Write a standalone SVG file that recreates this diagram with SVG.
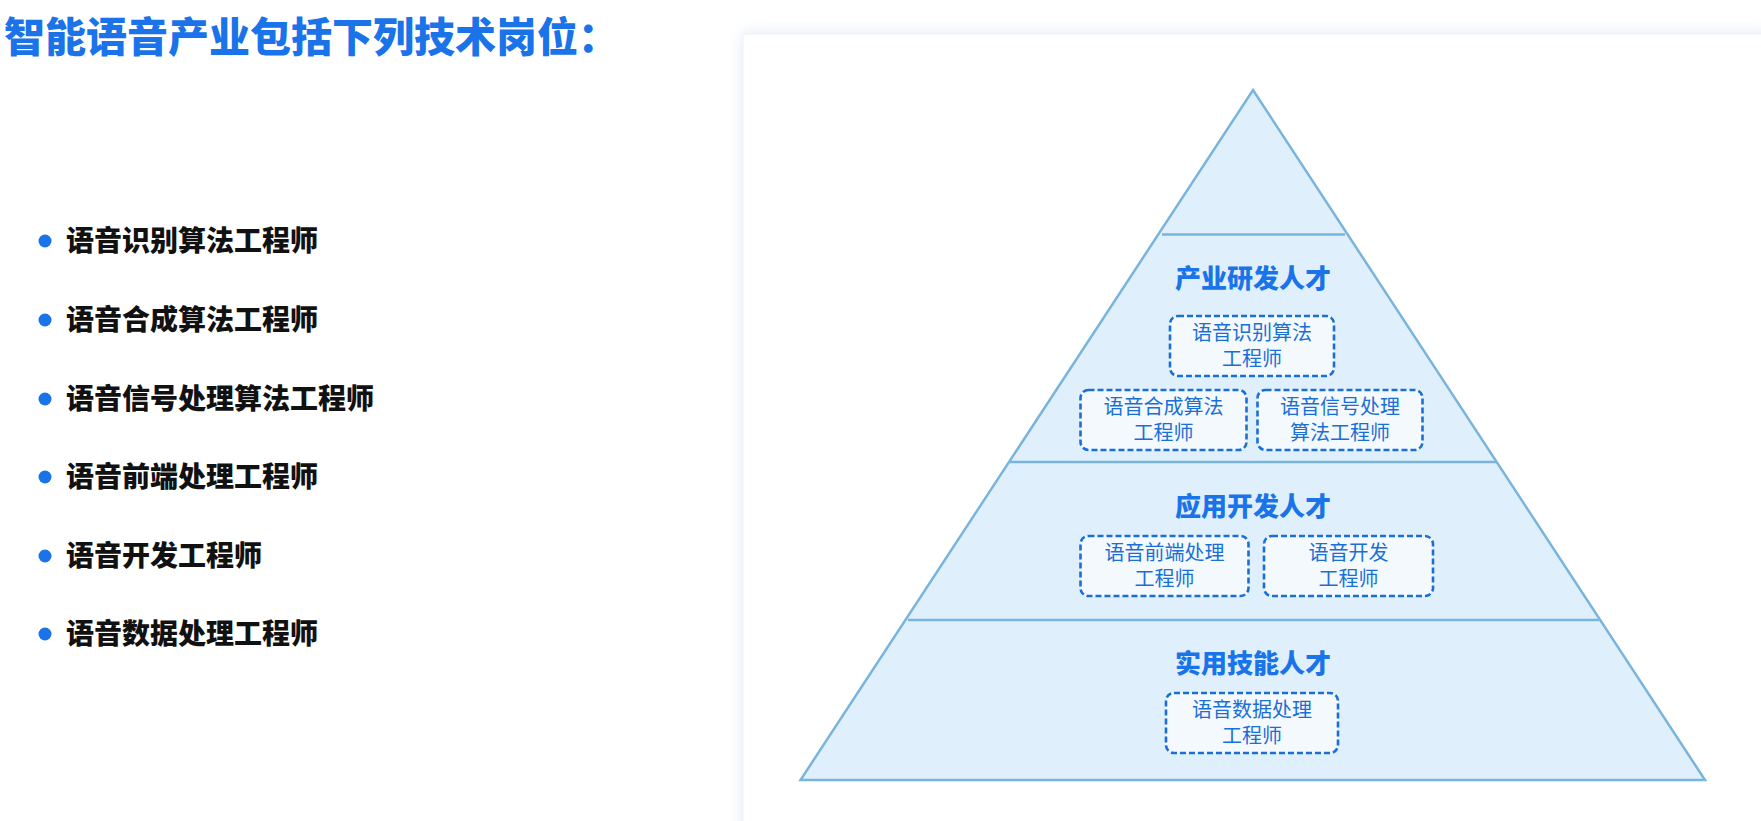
<svg xmlns="http://www.w3.org/2000/svg" width="1761" height="821" viewBox="0 0 1761 821">
<style>
text{font-family:"Noto Sans CJK SC","Noto Sans",sans-serif}
.title{font-size:41px;font-weight:900;fill:#1a73e8}
.item{font-size:28px;font-weight:900;fill:#111}
.dot{fill:#1a73e8}
.layer{font-size:26px;font-weight:900;fill:#1a73e8;text-anchor:middle}
.box rect{fill:#f4f9fe;stroke:#1a6fd6;stroke-width:2.6;stroke-dasharray:6 3}
.box text{font-size:20px;fill:#1a6fd6;text-anchor:middle}
.band{fill:#dff0fc;stroke:#7ab4dc;stroke-width:2.5}
</style>
<defs><filter id="sh" x="-5%" y="-5%" width="110%" height="110%"><feGaussianBlur stdDeviation="8"/></filter></defs>
<rect width="1761" height="821" fill="#fff"/>
<rect x="743" y="34" width="1030" height="800" fill="#dce8f4" filter="url(#sh)"/>
<rect x="743" y="34" width="1030" height="800" fill="#fff" stroke="#eef4fa"/>
<text class="title" x="4" y="52">智能语音产业包括下列技术岗位：</text>
<g id="list">
<circle class="dot" cx="45" cy="241" r="6.5"/><text class="item" x="66" y="251">语音识别算法工程师</text>
<circle class="dot" cx="45" cy="320" r="6.5"/><text class="item" x="66" y="330">语音合成算法工程师</text>
<circle class="dot" cx="45" cy="399" r="6.5"/><text class="item" x="66" y="409">语音信号处理算法工程师</text>
<circle class="dot" cx="45" cy="477" r="6.5"/><text class="item" x="66" y="487">语音前端处理工程师</text>
<circle class="dot" cx="45" cy="556" r="6.5"/><text class="item" x="66" y="566">语音开发工程师</text>
<circle class="dot" cx="45" cy="634" r="6.5"/><text class="item" x="66" y="644">语音数据处理工程师</text>
</g>
<g id="pyramid">
<polygon class="band" points="1253,90 1705,780 800.5,780"/>
<line x1="1162" y1="234.5" x2="1345" y2="234.5" stroke="#7ab4dc" stroke-width="2.5"/>
<line x1="1010" y1="462" x2="1497" y2="462" stroke="#7ab4dc" stroke-width="2.5"/>
<line x1="908" y1="620" x2="1599" y2="620" stroke="#7ab4dc" stroke-width="2.5"/>
</g>
<text class="layer" x="1253" y="288">产业研发人才</text>
<text class="layer" x="1253" y="516">应用开发人才</text>
<text class="layer" x="1253" y="673">实用技能人才</text>
<g id="n1" class="box"><rect x="1170" y="316" width="164" height="60" rx="8"/><text x="1252" y="340">语音识别算法</text><text x="1252" y="366">工程师</text></g>
<g id="n2" class="box"><rect x="1080.5" y="390" width="166" height="60" rx="8"/><text x="1163.5" y="414">语音合成算法</text><text x="1163.5" y="440">工程师</text></g>
<g id="n3" class="box"><rect x="1257.5" y="390" width="165" height="60" rx="8"/><text x="1340" y="414">语音信号处理</text><text x="1340" y="440">算法工程师</text></g>
<g id="n4" class="box"><rect x="1080.5" y="536" width="168" height="60" rx="8"/><text x="1164.5" y="560">语音前端处理</text><text x="1164.5" y="586">工程师</text></g>
<g id="n5" class="box"><rect x="1264" y="536" width="169" height="60" rx="8"/><text x="1348.5" y="560">语音开发</text><text x="1348.5" y="586">工程师</text></g>
<g id="n6" class="box"><rect x="1166" y="693" width="172" height="60" rx="8"/><text x="1252" y="717">语音数据处理</text><text x="1252" y="743">工程师</text></g>
<g id="connectors"></g>
</svg>
